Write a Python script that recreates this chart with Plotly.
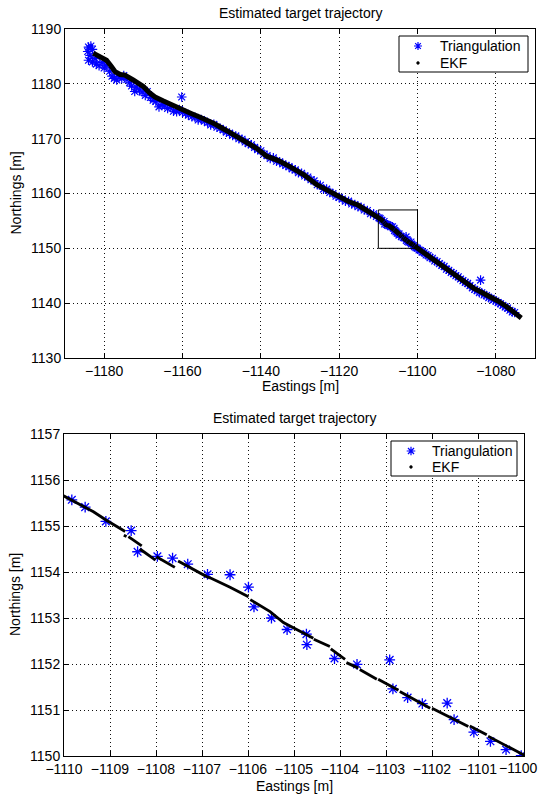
import plotly.graph_objects as go

# ---------------- data ----------------
TRI_X_UPPER = [-1184.0, -1183.4, -1183.0, -1184.2, -1183.6, -1184.0, -1183.0, -1182.3, -1182.0, -1181.3,
               -1180.5, -1180.0, -1179.5, -1178.6, -1178.0, -1177.4, -1176.8, -1176.2, -1175.5, -1175.0,
               -1174.2, -1173.5, -1173.0, -1172.2, -1171.8, -1171.0, -1170.3, -1169.5, -1169.0, -1168.2,
               -1167.5, -1166.8, -1166.0, -1165.2, -1164.5, -1163.8, -1163.0, -1162.3, -1161.5, -1160.2,
               -1160.8, -1160.0, -1159.2, -1158.5, -1157.6, -1156.8, -1156.0, -1155.2, -1154.4, -1153.6,
               -1152.8, -1152.0, -1151.2, -1150.4, -1149.6, -1148.8, -1148.0, -1147.2, -1146.4, -1145.6,
               -1144.8, -1144.0, -1143.2, -1142.4, -1141.6, -1140.8, -1140.0, -1139.2, -1138.4, -1137.6,
               -1136.8, -1136.0, -1135.2, -1134.4, -1133.6, -1132.8, -1132.0, -1131.2, -1130.4, -1129.6,
               -1128.8, -1128.0, -1127.2, -1126.4, -1125.6, -1124.8, -1124.0, -1123.2, -1122.4, -1121.6,
               -1120.8, -1120.0, -1119.2, -1118.4, -1117.6, -1116.8, -1116.0, -1115.2, -1114.4, -1113.6,
               -1112.8, -1112.0, -1111.2, -1110.5]
TRI_Y_UPPER = [1186.7, 1186.9, 1186.3, 1185.9, 1185.2, 1184.3, 1184.0, 1184.6, 1183.6, 1183.3,
               1183.9, 1182.9, 1183.4, 1182.3, 1181.4, 1181.0, 1180.7, 1181.3, 1181.0, 1181.5,
               1180.8, 1180.2, 1179.6, 1178.6, 1179.4, 1178.9, 1178.5, 1177.9, 1178.6, 1177.5,
               1177.0, 1176.8, 1175.8, 1176.2, 1176.0, 1175.5, 1175.7, 1175.0, 1174.9, 1177.6,
               1175.3, 1174.8, 1174.6, 1174.3, 1174.0, 1173.9, 1173.4, 1173.5, 1173.2, 1172.9,
               1172.5, 1172.6, 1172.1, 1171.9, 1171.6, 1171.2, 1171.0, 1170.6, 1170.5, 1170.0,
               1169.9, 1169.4, 1169.1, 1168.9, 1168.4, 1168.0, 1167.8, 1167.2, 1166.9, 1166.4,
               1166.5, 1165.9, 1165.8, 1165.4, 1165.1, 1164.9, 1164.5, 1164.3, 1163.8, 1163.7,
               1163.2, 1163.0, 1162.5, 1162.3, 1161.6, 1161.5, 1160.8, 1160.8, 1160.2, 1160.0,
               1159.5, 1159.3, 1159.0, 1158.6, 1158.6, 1158.1, 1158.0, 1157.6, 1157.5, 1157.0,
               1156.9, 1156.3, 1156.3, 1155.8]

TRI_X_ZOOM = [-1109.83, -1109.54, -1109.09, -1108.54, -1108.40, -1107.97, -1107.64, -1107.31, -1106.88, -1106.39,
              -1105.99, -1105.87, -1105.49, -1105.15, -1104.73, -1104.72, -1104.12, -1103.63, -1102.92, -1102.85,
              -1102.53, -1102.21, -1101.67, -1101.52, -1101.09, -1100.73, -1100.39, -1100.06]
TRI_Y_ZOOM = [1155.57, 1155.41, 1155.10, 1154.90, 1154.44, 1154.34, 1154.30, 1154.17, 1153.95, 1153.94,
              1153.67, 1153.24, 1153.00, 1152.75, 1152.65, 1152.42, 1152.12, 1151.99, 1152.09, 1151.46,
              1151.27, 1151.14, 1151.15, 1150.79, 1150.52, 1150.32, 1150.14, 1150.01]

TRI_X_LOWER = [-1099.6, -1099.2, -1098.8, -1098.3, -1097.8, -1097.3, -1096.8, -1096.2, -1095.6, -1095.0,
               -1094.4, -1093.8, -1093.2, -1092.6, -1092.0, -1091.4, -1090.8, -1090.2, -1089.6, -1089.0,
               -1088.4, -1087.8, -1087.2, -1086.6, -1086.0, -1085.4, -1084.8, -1083.9, -1084.2, -1083.6,
               -1083.0, -1082.4, -1081.8, -1081.2, -1080.6, -1080.0, -1079.4, -1078.8, -1078.2, -1077.6,
               -1077.0, -1076.4, -1075.8, -1075.2]
TRI_Y_LOWER = [1149.7, 1149.6, 1149.3, 1149.2, 1148.8, 1148.7, 1148.3, 1148.2, 1147.7, 1147.6,
               1147.2, 1146.9, 1146.7, 1146.2, 1146.0, 1145.6, 1145.4, 1145.0, 1144.8, 1144.4,
               1144.1, 1143.8, 1143.6, 1143.2, 1142.8, 1142.5, 1142.3, 1144.2, 1141.9, 1141.9,
               1141.5, 1141.4, 1141.0, 1140.9, 1140.6, 1140.4, 1140.1, 1139.9, 1139.6, 1139.3,
               1139.1, 1138.7, 1138.4, 1138.3]

EKF_X = [-1182.8, -1181.0, -1179.4, -1178.2, -1177.2, -1175.9, -1174.7, -1172.6, -1170.0, -1168.5,
         -1167.0, -1165.0, -1163.2, -1160.2, -1157.8, -1155.5, -1152.1, -1148.7, -1146.0, -1143.6,
         -1141.0, -1138.5, -1135.5, -1132.6, -1129.0, -1125.7, -1123.0, -1120.0, -1117.5, -1115.2,
         -1113.0, -1111.2,
         -1110.0, -1109.36, -1109.07, -1108.67, None,
         -1108.70, -1108.64, None,
         -1108.60, -1108.31, None,
         -1108.35, -1108.01, None,
         -1107.99, -1107.59, None,
         -1107.52, -1106.90, -1106.79, -1106.39, -1105.99, None,
         -1105.95, -1105.52, -1105.23, -1104.58, None,
         -1104.57, -1104.22, None,
         -1104.20, -1103.89, None,
         -1103.86, -1103.60, None,
         -1103.57, -1103.20, None,
         -1103.17, -1102.73, None,
         -1102.70, -1102.04, None,
         -1102.00, -1101.21, None,
         -1101.18, -1100.81, None,
         -1100.78, -1100.00,
         -1097.8, -1095.8, -1092.2, -1088.7, -1085.6, -1084.5, -1081.7, -1079.5, -1077.3, -1075.5,
         -1073.5]
EKF_Y = [1185.6, 1184.9, 1184.3, 1183.2, 1182.2, 1181.7, 1181.6, 1180.7, 1179.5, 1178.4,
         1177.6, 1176.9, 1176.3, 1175.2, 1174.6, 1173.9, 1172.8, 1171.45, 1170.4, 1169.45,
         1168.2, 1166.8, 1166.0, 1164.9, 1163.4, 1161.6, 1160.6, 1159.3, 1158.5, 1157.9,
         1157.0, 1156.3,
         1155.65, 1155.31, 1155.12, 1154.88, None,
         1154.80, 1154.77, None,
         1154.77, 1154.57, None,
         1154.50, 1154.26, None,
         1154.33, 1154.10, None,
         1154.24, 1153.90, 1153.86, 1153.67, 1153.46, None,
         1153.40, 1153.14, 1152.90, 1152.56, None,
         1152.54, 1152.38, None,
         1152.33, 1152.10, None,
         1152.03, 1151.91, None,
         1151.88, 1151.67, None,
         1151.67, 1151.43, None,
         1151.40, 1151.04, None,
         1151.04, 1150.64, None,
         1150.65, 1150.46, None,
         1150.43, 1150.02,
         1149.0, 1148.0, 1146.1, 1144.3, 1142.7, 1142.3, 1141.3, 1140.4, 1139.4, 1138.5,
         1137.3]

ZOOM_X = [-1110, -1100]
ZOOM_Y = [1150, 1157]

TOP_X_RANGE = [-1190, -1070]
TOP_Y_RANGE = [1130, 1190]
BOT_X_RANGE = [-1110, -1100]
BOT_Y_RANGE = [1150, 1157]
TOP_X_TICKS = [-1180, -1160, -1140, -1120, -1100, -1080]
TOP_Y_TICKS = [1130, 1140, 1150, 1160, 1170, 1180, 1190]
BOT_X_TICKS = [-1110, -1109, -1108, -1107, -1106, -1105, -1104, -1103, -1102, -1101, -1100]
BOT_Y_TICKS = [1150, 1151, 1152, 1153, 1154, 1155, 1156, 1157]

TITLE = "Estimated target trajectory"
XLABEL = "Eastings [m]"
YLABEL = "Northings [m]"
LEGEND_LABELS = ["Triangulation", "EKF"]

TRI_X = TRI_X_UPPER + TRI_X_ZOOM + TRI_X_LOWER
TRI_Y = TRI_Y_UPPER + TRI_Y_ZOOM + TRI_Y_LOWER


def tick_label(v):
    return ("\u2212" if v < 0 else "") + str(abs(v))


# last bottom x label is drawn as an annotation, nudged left to stay inside the page
BOT_X_TICKTEXT = [tick_label(v) for v in BOT_X_TICKS[:-1]] + [""]
BOT_X_LAST_LABEL = tick_label(BOT_X_TICKS[-1])

# ---------------- layout geometry (page pixels of the reference) ----------------
W, H = 540, 795
FONT = "Liberation Sans, Arial, Helvetica, sans-serif"
BLUE = "#0000ff"


def px_x(p):
    return p / W


def px_y(p):
    return 1 - p / H


TOP_BOX = (65, 535, 29, 358)   # left, right, top, bottom
BOT_BOX = (64, 524, 434, 756)
# legend: box (left, right, top, bottom), key x, text x, row y's
TOP_LEG = dict(box=(399, 528, 36, 72), kx=418, tx=438, rows=(46, 63))
BOT_LEG = dict(box=(391, 517, 441, 476), kx=411, tx=430, rows=(451, 467))

fig = go.Figure()

# ---- top subplot ----
fig.add_trace(go.Scatter(
    x=TRI_X, y=TRI_Y, mode="markers", name=LEGEND_LABELS[0], showlegend=False,
    marker=dict(symbol="asterisk-open", size=8, color=BLUE, line=dict(color=BLUE, width=1.2)),
    xaxis="x", yaxis="y"))
fig.add_trace(go.Scatter(
    x=EKF_X, y=EKF_Y, mode="lines", name=LEGEND_LABELS[1], showlegend=False,
    line=dict(color="black", width=5), xaxis="x", yaxis="y"))
fig.add_trace(go.Scatter(
    x=[ZOOM_X[0], ZOOM_X[1], ZOOM_X[1], ZOOM_X[0], ZOOM_X[0]],
    y=[ZOOM_Y[0], ZOOM_Y[0], ZOOM_Y[1], ZOOM_Y[1], ZOOM_Y[0]],
    mode="lines", showlegend=False, line=dict(color="black", width=1),
    xaxis="x", yaxis="y"))

# ---- bottom subplot ----
fig.add_trace(go.Scatter(
    x=TRI_X, y=TRI_Y, mode="markers", name=LEGEND_LABELS[0], showlegend=False,
    marker=dict(symbol="asterisk-open", size=9, color=BLUE, line=dict(color=BLUE, width=1.3)),
    xaxis="x2", yaxis="y2"))
fig.add_trace(go.Scatter(
    x=EKF_X, y=EKF_Y, mode="lines", name=LEGEND_LABELS[1], showlegend=False,
    line=dict(color="black", width=2.8), xaxis="x2", yaxis="y2"))

axis_common = dict(
    showline=True, linecolor="black", linewidth=1, mirror="ticks",
    ticks="inside", ticklen=5, tickwidth=1, tickcolor="black",
    showgrid=True, gridcolor="#111111", gridwidth=1, griddash="1px,3px",
    zeroline=False, tickfont=dict(family=FONT, size=14, color="black"),
    fixedrange=True, automargin=False,
)

fig.update_layout(
    template="none",
    width=W, height=H,
    margin=dict(l=0, r=0, t=0, b=0, autoexpand=False),
    paper_bgcolor="white", plot_bgcolor="white",
    font=dict(family=FONT, size=14, color="black"),
    showlegend=False,
    hovermode=False,
    xaxis=dict(domain=[px_x(TOP_BOX[0]), px_x(TOP_BOX[1])], range=TOP_X_RANGE,
               tickvals=TOP_X_TICKS, anchor="y", **axis_common),
    yaxis=dict(domain=[px_y(TOP_BOX[3]), px_y(TOP_BOX[2])], range=TOP_Y_RANGE,
               tickvals=TOP_Y_TICKS, anchor="x", **axis_common),
    xaxis2=dict(domain=[px_x(BOT_BOX[0]), px_x(BOT_BOX[1])], range=BOT_X_RANGE,
                tickvals=BOT_X_TICKS, ticktext=BOT_X_TICKTEXT, anchor="y2", **axis_common),
    yaxis2=dict(domain=[px_y(BOT_BOX[3]), px_y(BOT_BOX[2])], range=BOT_Y_RANGE,
                tickvals=BOT_Y_TICKS, anchor="x2", **axis_common),
)

ann_font = dict(family=FONT, size=14, color="black")
annotations = []
shapes = []
for box, title_y, xlab_y, leg, key_r in [(TOP_BOX, 13, 386, TOP_LEG, 4.0),
                                         (BOT_BOX, 418, 786, BOT_LEG, 4.3)]:
    cx = (box[0] + box[1]) / 2
    cy = (box[2] + box[3]) / 2
    annotations.append(dict(text=TITLE, x=px_x(cx), y=px_y(title_y), xref="paper", yref="paper",
                            xanchor="center", yanchor="middle", showarrow=False, font=ann_font))
    annotations.append(dict(text=XLABEL, x=px_x(cx), y=px_y(xlab_y), xref="paper", yref="paper",
                            xanchor="center", yanchor="middle", showarrow=False, font=ann_font))
    annotations.append(dict(text=YLABEL, x=px_x(15), y=px_y(cy), xref="paper", yref="paper",
                            xanchor="center", yanchor="middle", showarrow=False, textangle=-90,
                            font=ann_font))
    # legend box
    lb = leg["box"]
    shapes.append(dict(type="rect", xref="paper", yref="paper",
                       x0=px_x(lb[0]), x1=px_x(lb[1]), y0=px_y(lb[3]), y1=px_y(lb[2]),
                       fillcolor="white", line=dict(color="black", width=1), layer="above"))
    # legend key: asterisk (Triangulation)
    kx, ky = leg["kx"], leg["rows"][0]
    d = key_r * 0.7071
    segs = [(-key_r, 0, key_r, 0), (0, -key_r, 0, key_r), (-d, -d, d, d), (-d, d, d, -d)]
    path = " ".join(f"M{px_x(kx + a):.5f},{px_y(ky + b):.5f} L{px_x(kx + c):.5f},{px_y(ky + e):.5f}"
                    for a, b, c, e in segs)
    shapes.append(dict(type="path", xref="paper", yref="paper", path=path,
                       line=dict(color=BLUE, width=1.2), layer="above"))
    # legend key: dot (EKF)
    ky2 = leg["rows"][1]
    shapes.append(dict(type="circle", xref="paper", yref="paper",
                       x0=px_x(kx - 1.4), x1=px_x(kx + 1.4), y0=px_y(ky2 + 1.4), y1=px_y(ky2 - 1.4),
                       fillcolor="black", line=dict(color="black", width=0.5), layer="above"))
    for label, ry in zip(LEGEND_LABELS, leg["rows"]):
        annotations.append(dict(text=label, x=px_x(leg["tx"]), y=px_y(ry), xref="paper", yref="paper",
                                xanchor="left", yanchor="middle", showarrow=False, font=ann_font))

annotations.append(dict(text=BOT_X_LAST_LABEL, x=px_x(518), y=px_y(768), xref="paper", yref="paper",
                        xanchor="center", yanchor="middle", showarrow=False, font=ann_font))

fig.update_layout(annotations=annotations, shapes=shapes)

fig.write_html("out.html", config={"displayModeBar": False, "staticPlot": True},
               post_script="document.body.style.margin='0px';")
